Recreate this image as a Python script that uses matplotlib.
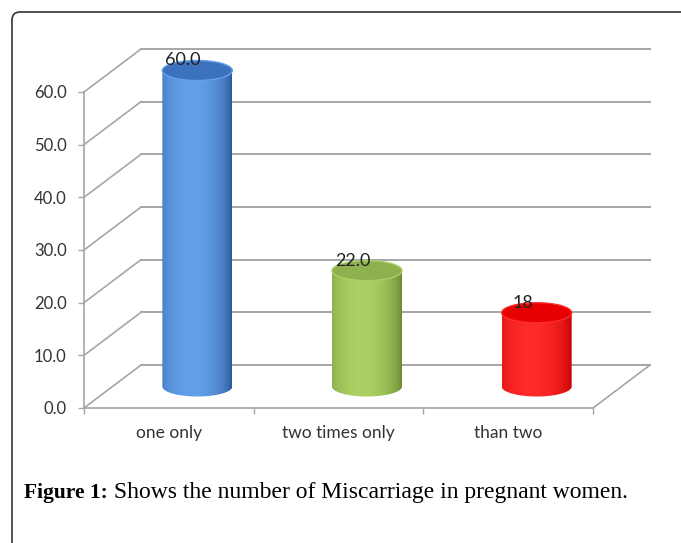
import numpy as np
import matplotlib
matplotlib.use('Agg')
import matplotlib.pyplot as plt
from matplotlib.patches import Ellipse, PathPatch, FancyBboxPatch
from matplotlib.path import Path
from matplotlib.colors import to_rgb

# chart data
categories = ['one only', 'two times only', 'than two']
values = [60.0, 22.0, 14.0]          # bar heights as drawn
value_labels = ['60.0', '22.0', '18']  # data labels as printed
y_ticks = [0, 10, 20, 30, 40, 50, 60]
# (dark edge, highlight, top face) per bar
bar_colors = [('#2b5797', '#62a0ea', '#3b71bd'),
              ('#6a8632', '#abd063', '#8fb04e'),
              ('#c40000', '#ff2a2a', '#e60000')]

W, H = 681, 543
grid_col = '#a6a6a6'
text_col = '#333333'

fig = plt.figure(figsize=(W / 100, H / 100), dpi=100)
ax = fig.add_axes([84 / W, 1 - 408 / H, 509 / W, 316 / H])

# depth of the fake 3d box, in data units (57 px right, 43 px up)
DX = 57 / (509 / 3)
DY = 43 / (316 / 60)

# back wall and side wall gridlines
for v in y_ticks:
    ax.plot([DX, 3 + DX], [v + DY, v + DY], color=grid_col, lw=1.4, clip_on=False, zorder=1)
    ax.plot([0, DX], [v, v + DY], color=grid_col, lw=1.2, clip_on=False, zorder=1)
# floor right edge
ax.plot([3, 3 + DX], [0, DY], color=grid_col, lw=1.2, clip_on=False, zorder=1)

# cylinders
w = 0.4125
eh = 3.8
t = np.linspace(0, 1, 200)
for i, (v, cols) in enumerate(zip(values, bar_colors)):
    cx = i + 0.5 + DX / 2
    by = DY / 2
    ty = v + DY / 2
    dark = np.array(to_rgb(cols[0]))
    light = np.array(to_rgb(cols[1]))
    shade = np.clip(1 - ((t - 0.42) / 0.58) ** 2, 0, 1) ** 0.7
    grad = dark[None, :] + (light - dark)[None, :] * shade[:, None]
    img = np.stack([grad, grad])

    ang = np.linspace(np.pi, 2 * np.pi, 60)
    verts = [(cx - w / 2, ty)]
    verts += list(zip(cx + w / 2 * np.cos(ang), by + eh / 2 * np.sin(ang)))
    verts += [(cx + w / 2, ty), (cx - w / 2, ty)]
    codes = [Path.MOVETO] + [Path.LINETO] * (len(verts) - 2) + [Path.CLOSEPOLY]
    body = PathPatch(Path(verts, codes), facecolor='none', edgecolor='none',
                     transform=ax.transData)
    ax.add_patch(body)
    im = ax.imshow(img, extent=[cx - w / 2, cx + w / 2, by - eh / 2, ty],
                   aspect='auto', interpolation='bilinear', zorder=3)
    im.set_clip_path(body)
    im.set_clip_box(fig.bbox)
    ax.add_patch(Ellipse((cx, ty), w, eh, facecolor=cols[2],
                         edgecolor=cols[1], lw=1.0, zorder=4, clip_on=False))
    ax.text(i + 0.5 + DX / 4, ty + eh / 2, value_labels[i], ha='center', va='center',
            fontsize=13, color='#222222', family=['Lato', 'DejaVu Sans'], zorder=5)

ax.set_xlim(0, 3)
ax.set_ylim(0, 60)
ax.set_facecolor('none')
for s in ['top', 'right']:
    ax.spines[s].set_visible(False)
for s in ['left', 'bottom']:
    ax.spines[s].set_color(grid_col)
    ax.spines[s].set_linewidth(1.2)

ax.set_yticks(y_ticks)
ax.set_yticklabels([f'{v:.1f}' for v in y_ticks])
ax.set_xticks([0, 1, 2, 3])
ax.set_xticklabels([])
ax.set_xticks([0.5, 1.5, 2.5], minor=True)
ax.set_xticklabels(categories, minor=True)
ax.tick_params(axis='y', length=4.5, width=1, color=grid_col, labelcolor=text_col,
               labelsize=12, pad=8)
ax.tick_params(axis='x', which='major', length=4.5, width=1, color=grid_col)
ax.tick_params(axis='x', which='minor', length=0, labelcolor=text_col, labelsize=12.5, pad=12)
for lab in ax.get_xticklabels(minor=True) + ax.get_yticklabels():
    lab.set_family(['Lato', 'DejaVu Sans'])

# caption
t1 = fig.text(24 / W, 1 - 503 / H, 'Figure 1:', fontsize=15.5, fontweight='bold',
              family=['Liberation Serif'], va='bottom', ha='left')
fig.add_artist(plt.Annotation(' Shows the number of Miscarriage in pregnant women.',
                              xy=(1, 0), xycoords=t1, va='bottom', ha='left',
                              fontsize=17, family=['Liberation Serif']))

# rounded frame around the figure panel
frame = FancyBboxPatch((0.12, -0.5), 8.0, 5.31 + 0.5,
                       boxstyle='round,pad=0,rounding_size=0.08',
                       transform=fig.dpi_scale_trans, fill=False,
                       edgecolor='#333333', lw=1.2)
fig.add_artist(frame)

fig.savefig('out.png', dpi=100)
